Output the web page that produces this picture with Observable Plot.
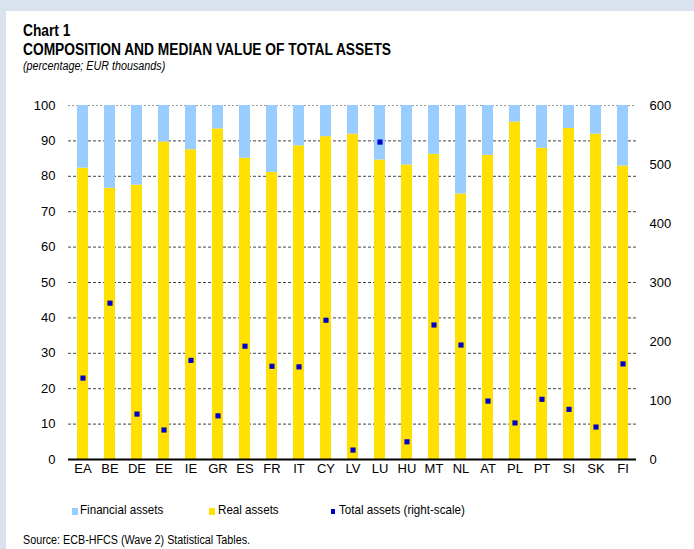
<!DOCTYPE html>
<html>
<head>
<meta charset="utf-8">
<script src="https://cdn.jsdelivr.net/npm/d3@7"></script>
<script src="https://cdn.jsdelivr.net/npm/@observablehq/plot@0.6"></script>
<style>
  html, body { margin: 0; padding: 0; }
  body { width: 694px; height: 549px; background: #dae2ee; position: relative; overflow: hidden; font-family: "Liberation Sans", Arial, sans-serif; }
  #panel { position: absolute; left: 6px; top: 11px; right: 0; bottom: 0; background: #fff; }
  .t { position: absolute; white-space: nowrap; color: #000; transform: scaleX(0.86); transform-origin: 0 50%; }
  #chart { position: absolute; left: 0; top: 90px; }
  .sw { position: absolute; }
</style>
</head>
<body>
<div id="panel"></div>
<div class="t" style="left:23px; top:22px; font-size:16px; font-weight:bold;">Chart 1</div>
<div class="t" style="left:23px; top:41px; font-size:16px; font-weight:bold;">COMPOSITION AND MEDIAN VALUE OF TOTAL ASSETS</div>
<div class="t" style="left:23px; top:59px; font-size:12.5px; font-style:italic;">(percentage; EUR thousands)</div>
<div id="chart"></div>
<div id="legend"></div>
<div class="t" style="left:23px; top:533px; font-size:12.5px;">Source: ECB-HFCS (Wave 2) Statistical Tables.</div>
<script>
const countries = ["EA","BE","DE","EE","IE","GR","ES","FR","IT","CY","LV","LU","HU","MT","NL","AT","PL","PT","SI","SK","FI"];
const realAssets = [82.3, 76.6, 77.5, 89.7, 87.5, 93.4, 85.1, 81.1, 88.6, 91.2, 91.9, 84.6, 83.2, 86.2, 75.0, 85.9, 95.3, 87.9, 93.5, 91.9, 82.9];
const totalAssets = [138, 265, 77, 50, 168, 74, 192, 158, 157, 236, 16, 538, 30, 228, 194, 99, 62, 102, 85, 55, 162];
const leftTicks = [0,10,20,30,40,50,60,70,80,90,100];
const rightTicks = [0,100,200,300,400,500,600];
const seriesNames = ["Financial assets", "Real assets", "Total assets (right-scale)"];
const seriesColors = ["#99ccff", "#ffe000", "#0000cc"];

const rows = countries.map((c, i) => ({country: c, real: realAssets[i], fin: 100 - realAssets[i], total: totalAssets[i]}));
const rightMax = 600;

const chart = Plot.plot({
  width: 694,
  height: 394,
  marginTop: 15,
  marginBottom: 25,
  marginLeft: 68,
  marginRight: 58,
  style: {fontFamily: "'Liberation Sans', Arial, sans-serif", fontSize: "13px", color: "#000", background: "transparent"},
  x: {domain: countries, paddingInner: 0.6, paddingOuter: 0.3, label: null},
  y: {domain: [0, 100], label: null},
  marks: [
    Plot.ruleY(leftTicks.filter(d => d > 0 && d < 100), {stroke: "#444", strokeDasharray: "3,2", strokeWidth: 1}),
    Plot.ruleY([100], {stroke: "#999", strokeDasharray: "2,2", strokeWidth: 1}),
    Plot.barY(rows, {x: "country", y1: 0, y2: "real", fill: seriesColors[1]}),
    Plot.barY(rows, {x: "country", y1: "real", y2: 100, fill: seriesColors[0]}),
    Plot.dot(rows, {x: "country", y: d => d.total / rightMax * 100, symbol: "square", r: 2.9, fill: seriesColors[2], stroke: null}),
    Plot.ruleY([0], {stroke: "#000", strokeWidth: 2}),
    Plot.axisY(leftTicks, {anchor: "left", tickSize: 0, tickPadding: 13, label: null, fontSize: 13}),
    Plot.axisY(rightTicks.map(v => v / rightMax * 100), {anchor: "right", tickSize: 0, tickPadding: 13, label: null, tickFormat: d => Math.round(d * rightMax / 100), fontSize: 13}),
    Plot.axisX({tickSize: 0, tickPadding: 4, label: null, fontSize: 13})
  ]
});
document.getElementById("chart").appendChild(chart);

// Legend
const legend = document.getElementById("legend");
const legendPos = [{sq: 72, tx: 80, s: 6}, {sq: 209, tx: 218, s: 6}, {sq: 331, tx: 339, s: 4}];
seriesNames.forEach((name, i) => {
  const p = legendPos[i];
  const sw = document.createElement("div");
  sw.className = "sw";
  sw.style.cssText = `left:${p.sq}px; top:${511 - p.s/2 - 0.5}px; width:${p.s}px; height:${p.s + 1}px; background:${seriesColors[i]};`;
  legend.appendChild(sw);
  const t = document.createElement("div");
  t.className = "t";
  t.style.cssText = `left:${p.tx}px; top:502px; font-size:13.5px;`;
  t.textContent = name;
  legend.appendChild(t);
});
</script>
</body>
</html>
